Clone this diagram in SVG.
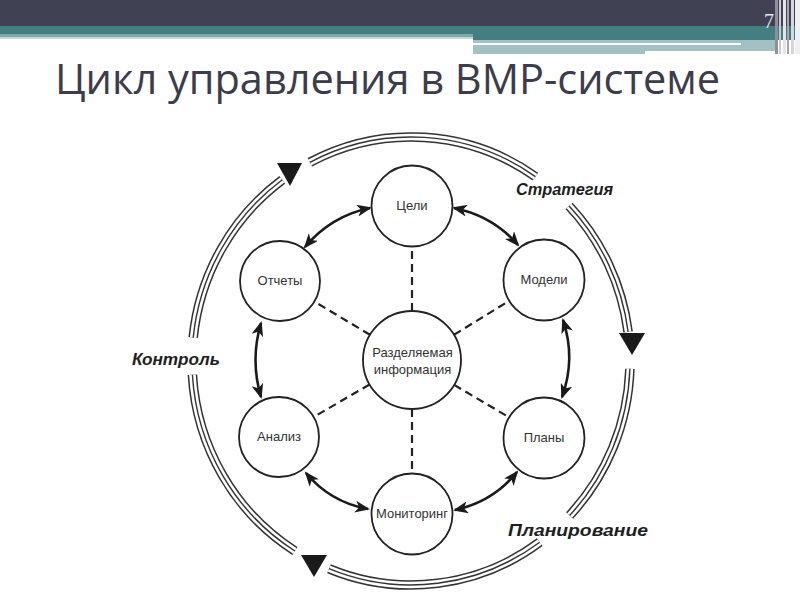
<svg xmlns="http://www.w3.org/2000/svg" xmlns:xlink="http://www.w3.org/1999/xlink" width="800" height="600" viewBox="0 0 800 600">
<style>
.node circle{fill:#fff;stroke:#222;stroke-width:1.8}
.node text{font-family:"Liberation Sans",Arial,sans-serif;font-size:13px;fill:#333;text-anchor:middle}
.dash{stroke:#222;stroke-width:2.2;stroke-dasharray:8 5;fill:none}
.arr{stroke:#1a1a1a;stroke-width:2.6;fill:none;marker-start:url(#ah);marker-end:url(#ah)}
.r1{stroke:#333;stroke-width:9.6;fill:none}
.r2{stroke:#fff;stroke-width:6.6;fill:none}
.r3{stroke:#333;stroke-width:1.4;fill:none}
.tri{fill:#1a1a1a}
.lbl{font-family:"Liberation Sans",Arial,sans-serif;font-weight:bold;font-style:italic;fill:#1e1e1e}
.title{font-family:"Open Sans","Liberation Sans",sans-serif;font-size:42px;fill:#3c3c4c}
</style>
<defs>
<marker id="ah" markerUnits="userSpaceOnUse" markerWidth="16" markerHeight="12" refX="13" refY="6" orient="auto-start-reverse">
<path d="M0,0 L15,6 L0,12 L4,6 Z" fill="#1a1a1a"/>
</marker>
<g id="ring">
<path d="M309.9,162.3 A219,224 0 0 1 535.4,176.6"/>
<path d="M569.1,206.0 A219,224 0 0 1 628.1,331.8"/>
<path d="M629.9,368.8 A219,224 0 0 1 569.6,515.5"/>
<path d="M539.7,542.2 A219,224 0 0 1 329.0,568.7"/>
<path d="M294.9,551.0 A219,224 0 0 1 192.4,374.7"/>
<path d="M193.2,337.6 A219,224 0 0 1 282.3,179.8"/>
</g>
</defs>

<g id="header">
<rect x="0" y="0" width="800" height="26" fill="#404153"/>
<rect x="0" y="26" width="473" height="8" fill="#437E80"/>
<rect x="0" y="34" width="473" height="3" fill="#7FA8AA"/>
<rect x="0" y="37" width="473" height="2" fill="#C4D8D9"/>
<rect x="473" y="26" width="327" height="14" fill="#437E80"/>
<rect x="473" y="40" width="302" height="14" fill="#A3C1C3"/>
<rect x="473" y="43" width="268" height="2" fill="#ffffff"/>
<rect x="645" y="51" width="140" height="3" fill="#ffffff"/>
<rect x="775" y="0" width="3" height="54" fill="#8E8E9C"/>
<rect x="779" y="0" width="2" height="54" fill="#C9C9D2"/>
<rect x="783" y="0" width="3" height="54" fill="#E4E4EA"/>
<rect x="787" y="0" width="2" height="54" fill="#A4A4B0"/>
<rect x="791" y="0" width="3" height="54" fill="#D6D6DE"/>
<rect x="795" y="0" width="5" height="54" fill="#F0F0F3"/>
<text x="769" y="28" font-family="Liberation Serif,serif" font-size="20" fill="#E6E6EA" text-anchor="middle">7</text>
</g>

<text class="title" x="55" y="94" textLength="665" lengthAdjust="spacingAndGlyphs">Цикл управления в BMP-системе</text>

<g id="cycle-ring">
<use xlink:href="#ring" class="r1"/>
<use xlink:href="#ring" class="r2"/>
<use xlink:href="#ring" class="r3"/>
<polygon class="tri" points="277,163 302,163 290,186"/>
<polygon class="tri" points="619,333 645,333 632,355"/>
<polygon class="tri" points="301,555 327,555 314,577"/>
<text class="lbl" x="516" y="195" font-size="16" textLength="97" lengthAdjust="spacingAndGlyphs">Стратегия</text>
<text class="lbl" x="132" y="365" font-size="16" textLength="88" lengthAdjust="spacingAndGlyphs">Контроль</text>
<text class="lbl" x="508" y="536" font-size="17" textLength="140" lengthAdjust="spacingAndGlyphs">Планирование</text>
</g>

<g id="connectors">
<line class="dash" x1="412" y1="311" x2="412" y2="247"/>
<line class="dash" x1="412" y1="409" x2="412" y2="473"/>
<line class="dash" x1="370" y1="334.8" x2="315.2" y2="302.1"/>
<line class="dash" x1="454" y1="334.8" x2="508.8" y2="301.1"/>
<line class="dash" x1="369.6" y1="384.5" x2="314.5" y2="416.5"/>
<line class="dash" x1="454.2" y1="384.9" x2="508.7" y2="417.1"/>
<path class="arr" d="M370,208 Q331,216 305,247"/>
<path class="arr" d="M454,208 Q493,216 518,245"/>
<path class="arr" d="M563,320 Q576,358.5 562,397"/>
<path class="arr" d="M517,472 Q493,502 455,510"/>
<path class="arr" d="M368,509 Q330,502 306,473"/>
<path class="arr" d="M261,397 Q250,360 261,323"/>
</g>

<g id="node-center" class="node">
<circle cx="412" cy="360" r="49"/>
<text x="412.5" y="357">Разделяемая</text>
<text x="412.5" y="374">информация</text>
</g>
<g id="node-goals" class="node">
<circle cx="412" cy="206" r="40.5"/>
<text x="412" y="210">Цели</text>
</g>
<g id="node-models" class="node">
<circle cx="544" cy="280" r="40.5"/>
<text x="544" y="284">Модели</text>
</g>
<g id="node-plans" class="node">
<circle cx="544" cy="438" r="40.5"/>
<text x="544" y="442">Планы</text>
</g>
<g id="node-monitoring" class="node">
<circle cx="412" cy="514" r="40.5"/>
<text x="412" y="518">Мониторинг</text>
</g>
<g id="node-analysis" class="node">
<circle cx="279" cy="437" r="40"/>
<text x="279" y="441">Анализ</text>
</g>
<g id="node-reports" class="node">
<circle cx="280" cy="281" r="40"/>
<text x="280" y="285">Отчеты</text>
</g>
</svg>
